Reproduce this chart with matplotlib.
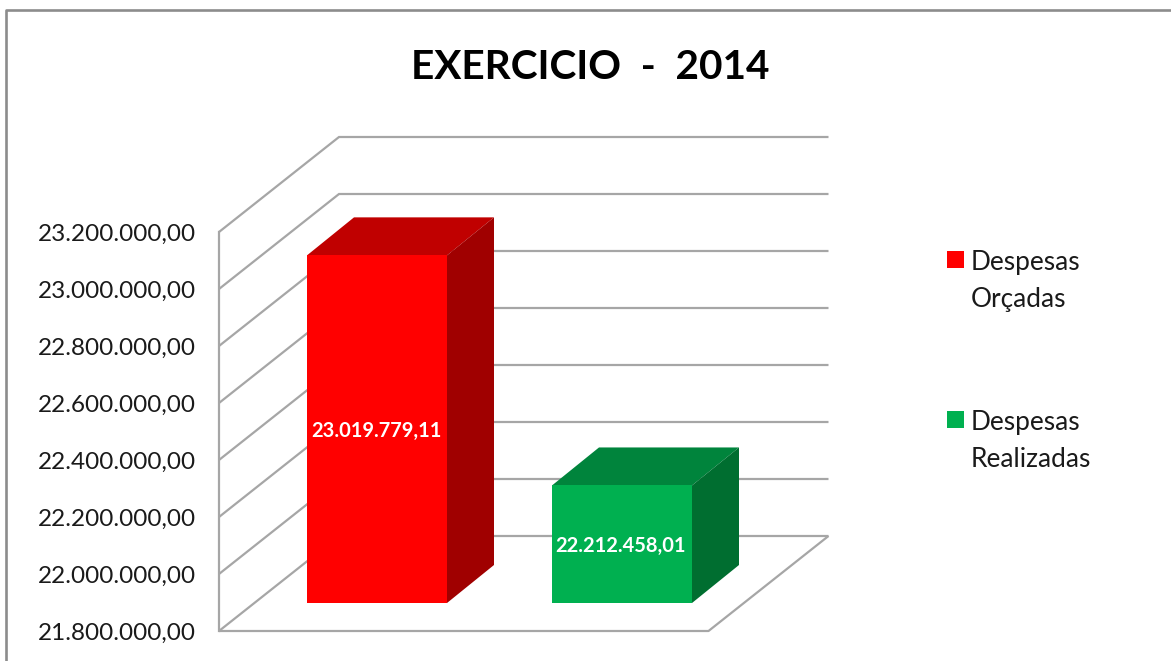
import matplotlib
matplotlib.use('Agg')
import matplotlib.pyplot as plt
from matplotlib.patches import Polygon, Rectangle

TITLE = 'EXERCICIO  -  2014'
categories = ['Despesas\nOrçadas', 'Despesas\nRealizadas']
values = [23019779.11, 22212458.01]
value_labels = ['23.019.779,11', '22.212.458,01']
ticks = [21800000, 22000000, 22200000, 22400000, 22600000, 22800000,
         23000000, 23200000]
tick_labels = ['21.800.000,00', '22.000.000,00', '22.200.000,00',
               '22.400.000,00', '22.600.000,00', '22.800.000,00',
               '23.000.000,00', '23.200.000,00']

FRONT_FACE = ['#ff0000', '#00b050']
TOP_FACE = ['#c00000', '#00843c']
SIDE_FACE = ['#a00000', '#006e30']
GRID = '#a6a6a6'
FONT = 'Lato'

W, H = 1171, 661
PER_PX = 200000 / 57.0   # one tick step is 57 px tall
Y0_PX = 631


def v(px):
    """Pixel row of the picture as a value on the y scale"""
    return ticks[0] + (Y0_PX - px) * PER_PX


fig = plt.figure(figsize=(W / 100, H / 100), dpi=100)
ax = fig.add_axes([0, 0, 1, 1])
ax.set_xlim(0, W)
ax.set_ylim(v(H), v(0))
ax.axis('off')

# outer frame of the chart
ax.plot([6, 6, W], [v(H), v(10.5), v(10.5)], color='#8c8c8c', lw=1.9, zorder=1)

# 3d walls: depth of the box in px and in value units
wall_dx = 120
wall_dy = 95 * PER_PX
left, right = 219, 708.5
for t, lab in zip(ticks, tick_labels):
    ax.plot([left, left + wall_dx, right + wall_dx],
            [t, t + wall_dy, t + wall_dy], color=GRID, lw=1.6, zorder=2,
            solid_joinstyle='miter', solid_capstyle='butt')
    ax.text(196, t - 2 * PER_PX, lab, ha='right', va='center', fontsize=17.5,
            family=FONT, color='#1a1a1a')
ax.plot([left, left], [ticks[0], ticks[-1]], color=GRID, lw=1.6, zorder=2)
ax.plot([left, right, right + wall_dx],
        [ticks[0], ticks[0], ticks[0] + wall_dy], color=GRID, lw=1.6, zorder=2,
        solid_capstyle='butt')

# bars, drawn as front, top and side faces
bar_x = [307, 552]
bar_w = 140
lift = 28 * PER_PX
bar_dx = 47
bar_dy = 38 * PER_PX
for i, val in enumerate(values):
    x0 = bar_x[i]
    x1 = x0 + bar_w
    y0 = ticks[0] + lift
    y1 = val + lift
    ax.add_patch(Rectangle((x0, y0), bar_w, y1 - y0, fc=FRONT_FACE[i], lw=0, zorder=4))
    ax.add_patch(Polygon([(x0, y1), (x1, y1), (x1 + bar_dx, y1 + bar_dy),
                          (x0 + bar_dx, y1 + bar_dy)], fc=TOP_FACE[i], lw=0, zorder=3))
    ax.add_patch(Polygon([(x1, y0), (x1, y1), (x1 + bar_dx, y1 + bar_dy),
                          (x1 + bar_dx, y0 + bar_dy)], fc=SIDE_FACE[i], lw=0, zorder=3))
    ax.text(x0 + bar_w / 2 - 1, (y0 + y1) / 2 - 2 * PER_PX, value_labels[i], color='white',
            ha='center', va='center', fontsize=14.5, fontweight='bold',
            family=FONT, zorder=5)

ax.text(590, v(68), TITLE, ha='center', va='center', fontsize=29.2,
        fontweight='bold', family=FONT, color='black')

# legend
legend_top = [251, 411]
for i, cat in enumerate(categories):
    ax.add_patch(Rectangle((947, v(legend_top[i] + 17)), 17, 17 * PER_PX,
                           fc=FRONT_FACE[i], lw=0))
    ax.text(971, v(legend_top[i] + 30), cat, ha='left', va='center', fontsize=18.9,
            family=FONT, color='#1a1a1a', linespacing=1.64)

fig.savefig('out.png', dpi=100)
plt.close(fig)
